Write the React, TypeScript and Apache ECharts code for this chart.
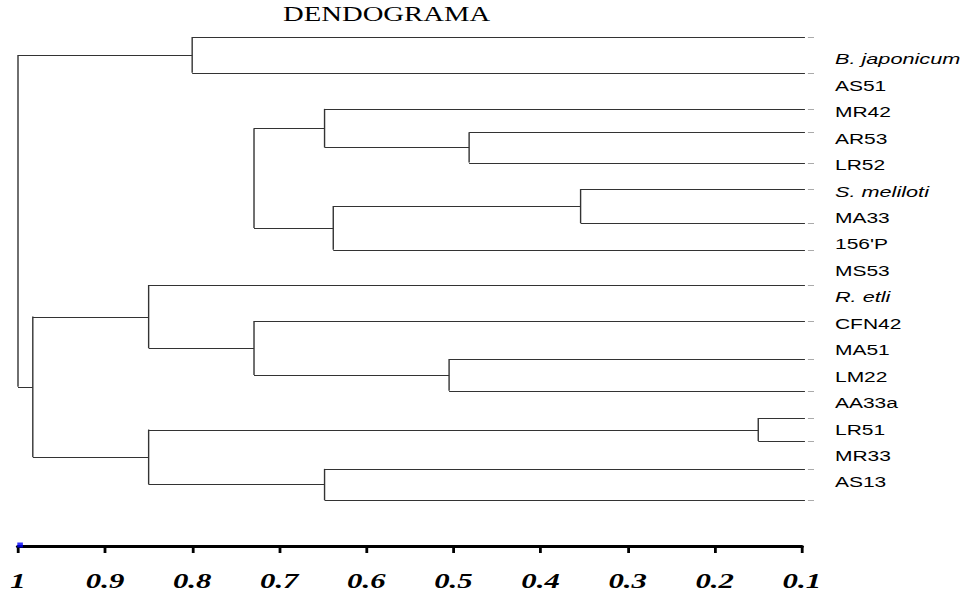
import React, { useEffect, useRef } from "react";
import * as echarts from "echarts";

// ---- data ----
const tickLabels = ["1", "0.9", "0.8", "0.7", "0.6", "0.5", "0.4", "0.3", "0.2", "0.1"];
const leafLabels = [
  "B. japonicum", "AS51", "MR42", "AR53", "LR52", "S. meliloti", "MA33", "156'P", "MS53",
  "R. etli", "CFN42", "MA51", "LM22", "AA33a", "LR51", "MR33", "AS13",
];
const italicLabels = ["B. japonicum", "S. meliloti", "R. etli"];
// leaf positions (row units, top to bottom)
const leafRow = [0, 1.16, 2.33, 3.09, 4.07, 4.93, 6.03, 6.9, 8.04, 9.21, 10.44, 11.47, 12.35, 13.1, 14.0, 15.01];
// merges: [childA, childB, similarity]; leaves are 0..15, merges numbered from 16
const mergeA = [12, 5, 3, 10, 2, 17, 14, 20, 9, 0, 8, 16, 26, 25];
const mergeB = [13, 6, 4, 11, 18, 7, 15, 21, 19, 1, 24, 22, 27, 28];
const mergeH = [0.15, 0.354, 0.482, 0.505, 0.648, 0.638, 0.648, 0.729, 0.729, 0.8, 0.85, 0.85, 0.983, 1.0];
// merges drawn without a link to their parent in the original
const unlinked = [23];

const S = 1.4; // horizontal stretch of the original picture
const W = 969 / S;

function buildSegments() {
  const nLeaf = leafRow.length;
  const ys: number[] = [...leafRow];
  const hs: number[] = leafRow.map(() => 0.0964);
  const parent: number[] = [];
  mergeA.forEach((a, i) => {
    const id = nLeaf + i;
    ys[id] = (ys[a] + ys[mergeB[i]]) / 2;
    hs[id] = mergeH[i];
    parent[a] = id;
    parent[mergeB[i]] = id;
  });
  const segs: number[][] = [];
  // verticals
  mergeA.forEach((a, i) => {
    segs.push([mergeH[i], ys[a], mergeH[i], ys[mergeB[i]], 0]);
  });
  // horizontals
  for (let id = 0; id < ys.length; id++) {
    const p = parent[id];
    if (p === undefined || unlinked.includes(id)) continue;
    segs.push([hs[id], ys[id], hs[p], ys[id], 0]);
  }
  // leaf end dashes
  leafRow.forEach((y) => segs.push([0.093, y, 0.086, y, 1]));
  return segs;
}

export default function App() {
  const ref = useRef<HTMLDivElement>(null);
  useEffect(() => {
    if (!ref.current) return;
    const chart = echarts.init(ref.current, undefined, { renderer: "svg" });
    const segs = buildSegments();
    chart.setOption({
      animation: false,
      backgroundColor: "#fff",
      title: {
        text: "DENDOGRAMA",
        left: 283 / S,
        top: 4,
        padding: 0,
        textStyle: { fontFamily: "Liberation Serif", fontWeight: "normal", fontSize: 20.5, color: "#000" },
      },
      grid: [
        { left: 18 / S, right: (969 - 802) / S, top: 37, bottom: 52 },
        { left: 580, width: 596.4 - 8 - 580, top: 59 - 26.44 / 2, height: 17 * 26.44 },
      ],
      xAxis: [
        {
          type: "value",
          min: 0.1,
          max: 1,
          interval: 0.1,
          inverse: true,
          splitLine: { show: false },
          axisLine: { onZero: false, lineStyle: { color: "#000", width: 3 } },
          axisTick: { show: true, length: 7, lineStyle: { color: "#000", width: 2 } },
          axisLabel: {
            margin: 24,
            fontFamily: "Liberation Serif",
            fontStyle: "italic",
            fontWeight: "bold",
            fontSize: 22,
            color: "#000",
            showMinLabel: true,
            showMaxLabel: true,
            formatter: (v: number) => tickLabels[Math.round((1 - v) * 10)],
          },
        },
        { gridIndex: 1, type: "value", show: false },
      ],
      yAxis: [
        { type: "value", min: 0, max: 16.5, inverse: true, show: false },
        {
          gridIndex: 1,
          type: "category",
          data: leafLabels,
          inverse: true,
          position: "right",
          axisLine: { show: false },
          axisTick: { show: false },
          splitLine: { show: false },
          axisLabel: {
            interval: 0,
            margin: 8,
            fontFamily: "Liberation Sans",
            fontSize: 15,
            color: "#000",
            formatter: (v: string) => (italicLabels.includes(v) ? `{i|${v}}` : v),
            rich: {
              i: { fontFamily: "Liberation Sans", fontSize: 15.5, fontStyle: "italic", color: "#000" },
            },
          },
        },
      ],
      series: [
        {
          type: "custom",
          xAxisIndex: 0,
          yAxisIndex: 0,
          data: segs,
          encode: { x: [0, 2], y: [1, 3] },
          renderItem: (_p: any, api: any) => {
            const p1 = api.coord([api.value(0), api.value(1)]);
            const p2 = api.coord([api.value(2), api.value(3)]);
            const horiz = Math.abs(p1[1] - p2[1]) < 0.01;
            const y1 = horiz ? Math.round(p1[1]) + 0.5 : p1[1];
            const y2 = horiz ? Math.round(p2[1]) + 0.5 : p2[1];
            return {
              type: "line",
              shape: { x1: p1[0], y1, x2: p2[0], y2 },
              style: { stroke: api.value(4) === 1 ? "#aaa" : "#333", lineWidth: 1 },
            };
          },
        },
        {
          type: "scatter",
          xAxisIndex: 0,
          yAxisIndex: 0,
          data: [[1, 16.5]],
          symbol: "rect",
          symbolSize: [4, 5],
          symbolOffset: [1.5, -1],
          clip: false,
          z: 10,
          itemStyle: { color: "#0000ff" },
        },
      ],
    });
    return () => chart.dispose();
  }, []);
  return (
    <div
      ref={ref}
      style={{
        position: "fixed",
        left: 0,
        top: 0,
        width: W,
        height: 598,
        transform: `scaleX(${S})`,
        transformOrigin: "0 0",
      }}
    />
  );
}
